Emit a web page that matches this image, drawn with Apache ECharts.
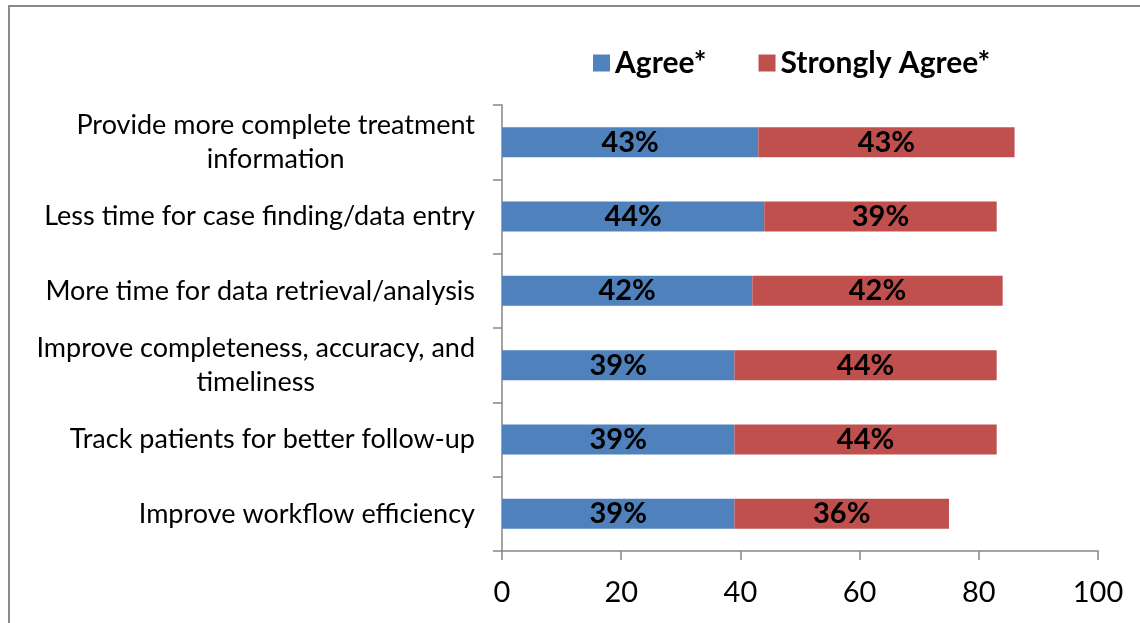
<!DOCTYPE html>
<html>
<head>
<meta charset="utf-8">
<script src="https://cdn.jsdelivr.net/npm/echarts@6/dist/echarts.min.js"></script>
<style>
  html, body { margin: 0; padding: 0; background: #fff; }
  #chart { width: 1140px; height: 623px; }
</style>
</head>
<body>
<div id="chart"></div>
<script>
// categories, top to bottom
var categories = [
  "Provide more complete treatment\ninformation",
  "Less time for case finding/data entry",
  "More time for data retrieval/analysis",
  "Improve completeness, accuracy, and\ntimeliness",
  "Track patients for better follow-up",
  "Improve workflow efficiency"
];
var agree = [43, 44, 42, 39, 39, 39];
var stronglyAgree = [43, 39, 42, 44, 44, 36];
var xTicks = [0, 20, 40, 60, 80, 100];

var FONT = "Lato, 'Open Sans', sans-serif";

var chart = echarts.init(document.getElementById("chart"));

// label inside bar
var barLabel = {
  show: true,
  position: "inside",
  formatter: "{c}%",
  color: "#000",
  fontFamily: FONT,
  fontWeight: "bold",
  fontSize: 29
};

var option = {
  animation: false,
  graphic: [{
    type: "rect",
    shape: { x: 9, y: 6, width: 1160, height: 640 },
    style: { fill: "none", stroke: "#8a8a8a", lineWidth: 2 },
    silent: true
  }],
  legend: {
    left: 588,
    top: 43,
    itemWidth: 17,
    itemHeight: 17,
    itemGap: 52,
    icon: "rect",
    textStyle: { fontFamily: FONT, fontSize: 30, fontWeight: "bold", color: "#000" },
    data: ["Agree*", "Strongly Agree*"]
  },
  grid: { left: 502, right: 42, top: 105, bottom: 72, containLabel: false },
  xAxis: {
    type: "value",
    min: xTicks[0],
    max: xTicks[xTicks.length - 1],
    interval: 20,
    splitLine: { show: false },
    axisLine: { show: true, lineStyle: { color: "#868686", width: 1.5 } },
    axisTick: { show: true, length: 9, lineStyle: { color: "#868686", width: 1.5 } },
    axisLabel: { margin: 27, color: "#000", fontFamily: FONT, fontSize: 29 }
  },
  yAxis: {
    type: "category",
    inverse: true,
    data: categories,
    axisLine: { show: true, lineStyle: { color: "#868686", width: 1.5 } },
    axisTick: { show: true, length: 9, lineStyle: { color: "#868686", width: 1.5 } },
    axisLabel: {
      margin: 27,
      color: "#000",
      fontFamily: FONT,
      fontSize: 27,
      lineHeight: 34,
      formatter: function (v) { return "{c|" + v + "}"; },
      rich: { c: { align: "center", fontFamily: FONT, fontSize: 27, lineHeight: 34, color: "#000" } }
    }
  },
  series: [
    {
      name: "Agree*",
      type: "bar",
      stack: "total",
      barWidth: 30,
      data: agree,
      itemStyle: { color: "#4F81BD" },
      label: barLabel
    },
    {
      name: "Strongly Agree*",
      type: "bar",
      stack: "total",
      barWidth: 30,
      data: stronglyAgree,
      itemStyle: { color: "#C0504D" },
      label: barLabel
    }
  ]
};

chart.setOption(option);
</script>
</body>
</html>
